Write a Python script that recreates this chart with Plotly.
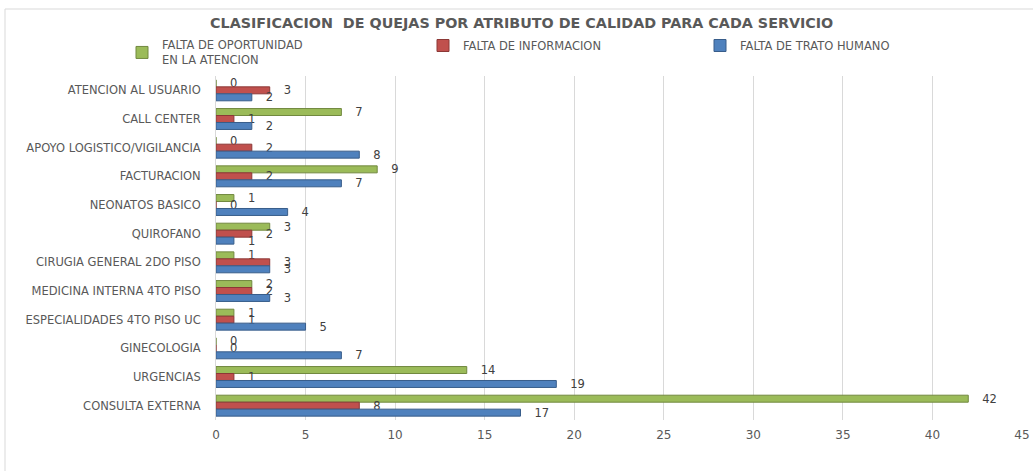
import plotly.graph_objects as go

categories = [
    "ATENCION AL USUARIO",
    "CALL CENTER",
    "APOYO LOGISTICO/VIGILANCIA",
    "FACTURACION",
    "NEONATOS BASICO",
    "QUIROFANO",
    "CIRUGIA GENERAL 2DO PISO",
    "MEDICINA INTERNA 4TO PISO",
    "ESPECIALIDADES 4TO PISO UC",
    "GINECOLOGIA",
    "URGENCIAS",
    "CONSULTA EXTERNA",
]
oportunidad = [0, 7, 0, 9, 1, 3, 1, 2, 1, 0, 14, 42]
informacion = [3, 1, 2, 2, 0, 2, 3, 2, 1, 0, 1, 8]
trato_humano = [2, 2, 8, 7, 4, 1, 3, 3, 5, 7, 19, 17]

series_names = [
    "FALTA DE OPORTUNIDAD<br>EN LA ATENCION",
    "FALTA DE INFORMACION",
    "FALTA DE TRATO HUMANO",
]
x_ticks = [0, 5, 10, 15, 20, 25, 30, 35, 40, 45]

title_text = "CLASIFICACION  DE QUEJAS POR ATRIBUTO DE CALIDAD PARA CADA SERVICIO"

colors = ["#9BBB59", "#C0504D", "#4F81BD"]
line_colors = ["#71893F", "#8C3836", "#385D8A"]
values = [oportunidad, informacion, trato_humano]
legend_ids = ["legend", "legend2", "legend3"]

fig = go.Figure()
for name, vals, c, lc, lg in zip(series_names, values, colors, line_colors, legend_ids):
    fig.add_trace(go.Bar(
        y=categories, x=vals, name=name, orientation="h",
        marker=dict(color=c, line=dict(color=lc, width=1)),
        text=vals, texttemplate="   %{x}", textposition="outside",
        constraintext="none",
        textfont=dict(family="DejaVu Sans", size=11.5, color="#404040"),
        cliponaxis=False, legend=lg, showlegend=True,
    ))

W, H = 1033, 471
ML, MR, MT, MB = 216, 11, 76, 51
PW, PH = W - ML - MR, H - MT - MB

def px(x):
    return (x - ML) / PW

def py(y):
    return (H - MB - y) / PH

legend_font = dict(family="DejaVu Sans", size=11.5, color="#595959")
def leg(xpix):
    return dict(x=xpix / W, xref="container", y=1 - 31 / H, yref="container", yanchor="top",
                xanchor="left", font=legend_font, bgcolor="rgba(0,0,0,0)", itemwidth=30,
                orientation="h", visible=True)

fig.update_layout(
    width=W, height=H,
    showlegend=True,
    margin=dict(l=ML, r=MR, t=MT, b=MB, autoexpand=False),
    paper_bgcolor="white", plot_bgcolor="white",
    barmode="group", bargap=0.27, bargroupgap=0,
    title=dict(text=title_text, x=0.505, xanchor="center", y=0.951, yanchor="middle",
               font=dict(family="DejaVu Sans", size=14.3, color="#595959", weight="bold")),
    legend=leg(122),
    legend2=leg(423),
    legend3=leg(700),
    xaxis=dict(range=[0, 45], tickvals=x_ticks, showgrid=True, gridcolor="#D9D9D9",
               gridwidth=1, zeroline=False, showline=False, ticks="", automargin=False,
               ticklabelstandoff=6,
               tickfont=dict(family="DejaVu Sans", size=12, color="#595959")),
    yaxis=dict(autorange="reversed", showgrid=False, zeroline=False, automargin=False,
               showline=True, linecolor="#D9D9D9", ticks="", ticklabelstandoff=12,
               tickfont=dict(family="DejaVu Sans", size=11.5, color="#595959")),
    shapes=[dict(type="rect", xref="paper", yref="paper",
                 x0=px(5), x1=px(1040), y0=py(480), y1=py(9),
                 line=dict(color="#D9D9D9", width=1), fillcolor="rgba(0,0,0,0)", layer="below")],
)

fig.write_html("out.html")
